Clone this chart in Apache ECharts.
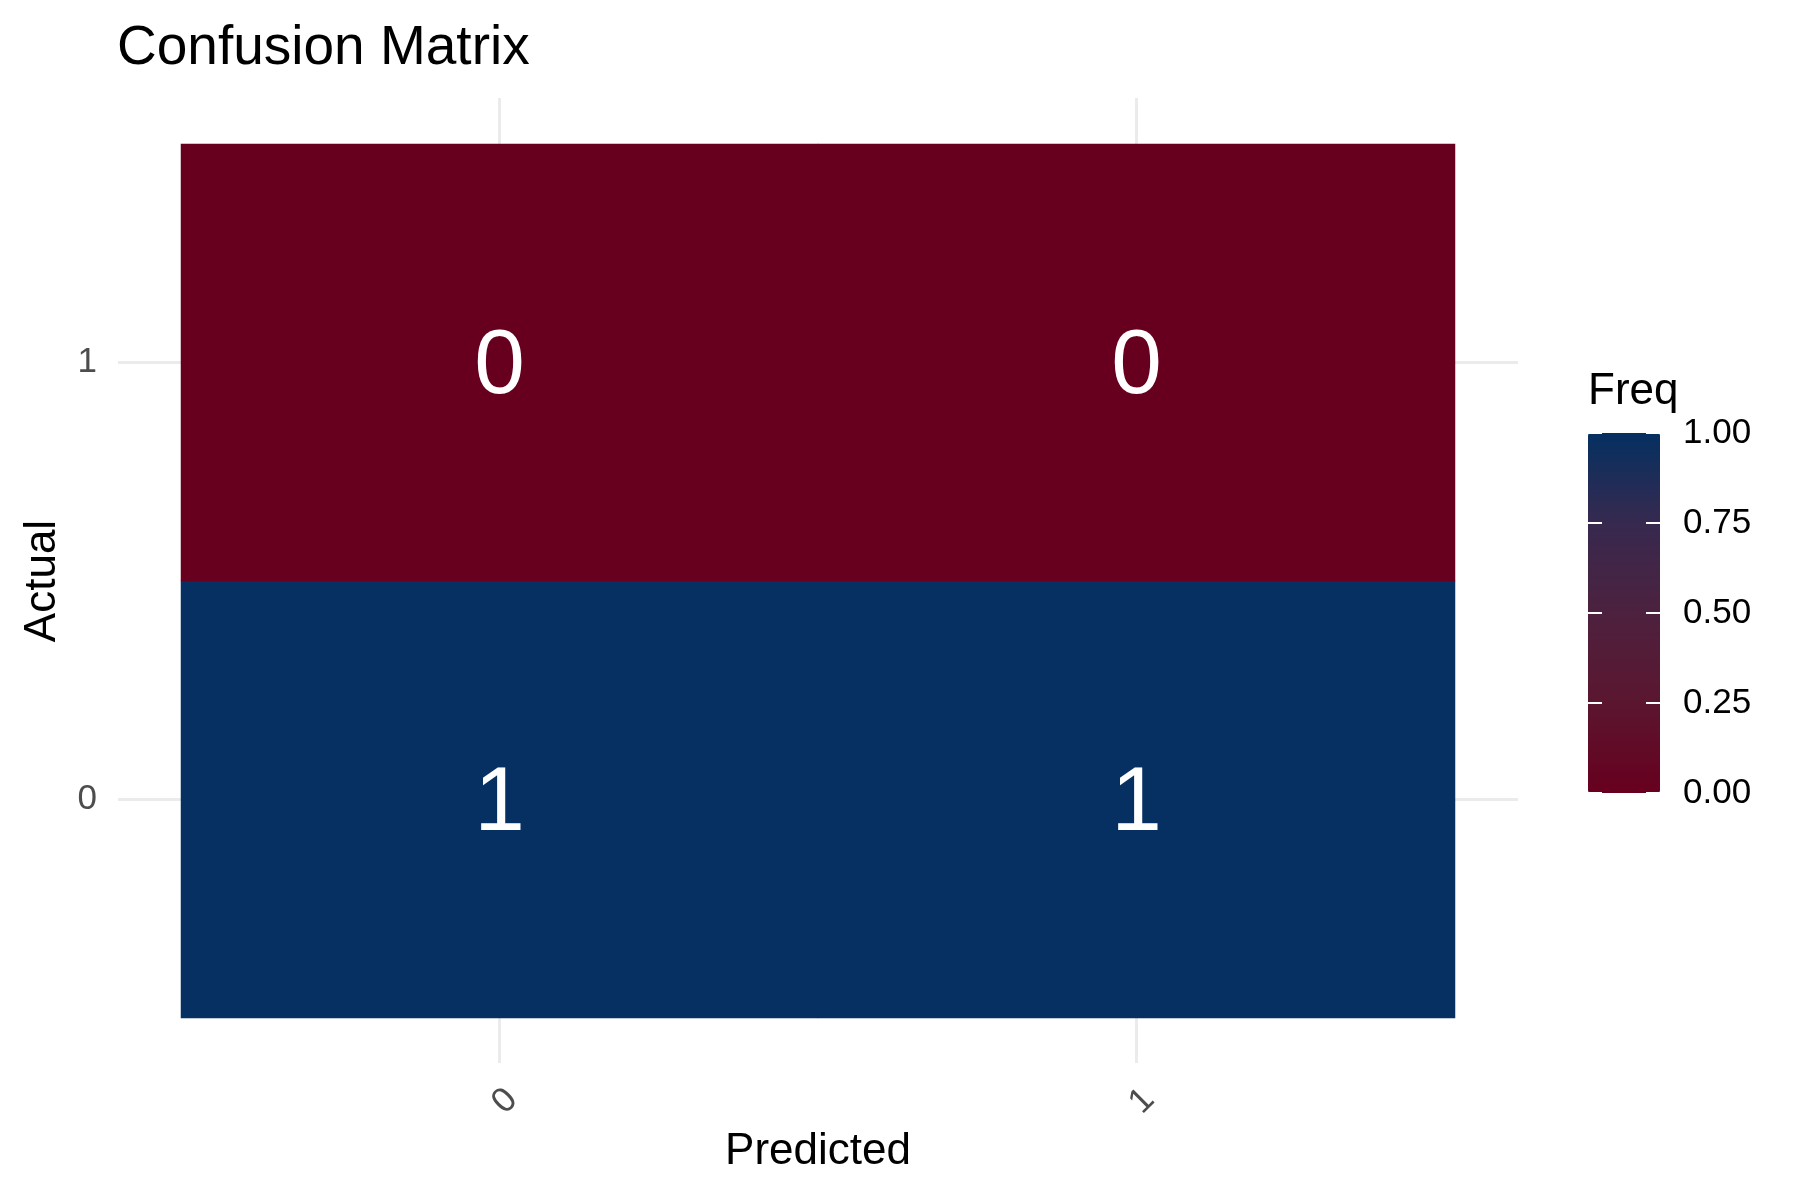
<!DOCTYPE html>
<html>
<head>
<meta charset="utf-8">
<script src="https://cdn.jsdelivr.net/npm/echarts@6/dist/echarts.min.js"></script>
<style>html,body{margin:0;padding:0;background:#fff;}#c{width:1800px;height:1200px;}</style>
</head>
<body>
<div id="c"></div>
<script>
// ---- data ----
var predictedCats = ['0', '1'];          // x axis
var actualCats = ['0', '1'];             // y axis (bottom to top)
var freqActual0 = [1, 1];                // Freq for Actual = 0, by Predicted
var freqActual1 = [0, 0];                // Freq for Actual = 1, by Predicted
var legendTicks = [0, 0.25, 0.5, 0.75, 1];
var legendColors = ['#67001F', '#5B162F', '#4D213F', '#37294F', '#053061'];

var rows = [freqActual0, freqActual1];
var heatData = [];
rows.forEach(function (row, yi) {
  row.forEach(function (v, xi) { heatData.push([xi, yi, v]); });
});

var FONT = 'Liberation Sans, Arial, sans-serif';
var GRIDC = '#EBEBEB';

var chart = echarts.init(document.getElementById('c'));
chart.setOption({
  backgroundColor: '#fff',
  animation: false,
  textStyle: { fontFamily: FONT },
  title: [
    { text: 'Confusion Matrix', left: 117, top: 21, padding: 0,
      textStyle: { fontFamily: FONT, fontSize: 55, fontWeight: 'normal', color: '#000' } },
    { text: 'Freq', left: 1588, top: 370, padding: 0,
      textStyle: { fontFamily: FONT, fontSize: 44, fontWeight: 'normal', color: '#000' } }
  ],
  grid: [
    { left: 181, top: 144, width: 1274, height: 874 },
    { left: 1588, top: 433, width: 72, height: 360 }
  ],
  xAxis: [
    { type: 'category', gridIndex: 0, data: predictedCats, position: 'bottom',
      axisLine: { show: false },
      axisTick: { show: true, alignWithLabel: true, length: 45, lineStyle: { color: GRIDC, width: 3 } },
      axisLabel: { rotate: 45, fontSize: 35, color: '#4D4D4D', margin: 64, align: 'right', verticalAlign: 'top', fontFamily: FONT },
      splitLine: { show: false },
      name: 'Predicted', nameLocation: 'middle', nameGap: 112,
      nameTextStyle: { fontSize: 44, color: '#000', fontFamily: FONT } },
    { type: 'category', gridIndex: 0, data: predictedCats, position: 'top',
      axisLine: { show: false },
      axisTick: { show: true, alignWithLabel: true, length: 46, lineStyle: { color: GRIDC, width: 3 } },
      axisLabel: { show: false }, splitLine: { show: false } },
    { type: 'value', gridIndex: 1, min: 0, max: 1, show: false }
  ],
  yAxis: [
    { type: 'category', gridIndex: 0, data: actualCats, position: 'left',
      axisLine: { show: false },
      axisTick: { show: true, alignWithLabel: true, length: 63, lineStyle: { color: GRIDC, width: 3 } },
      axisLabel: { fontSize: 35, color: '#4D4D4D', margin: 84, fontFamily: FONT },
      splitLine: { show: false },
      name: 'Actual', nameLocation: 'middle', nameRotate: 90, nameGap: 116,
      nameTextStyle: { fontSize: 44, color: '#000', fontFamily: FONT } },
    { type: 'category', gridIndex: 0, data: actualCats, position: 'right',
      axisLine: { show: false },
      axisTick: { show: true, alignWithLabel: true, length: 63, lineStyle: { color: GRIDC, width: 3 } },
      axisLabel: { show: false }, splitLine: { show: false } },
    { type: 'value', gridIndex: 1, min: 0, max: 1, interval: 0.25, position: 'left', z: 10,
      axisLine: { show: false },
      axisTick: { show: true, inside: true, length: 14, lineStyle: { color: '#ffffff', width: 2 } },
      axisLabel: { show: false }, splitLine: { show: false } },
    { type: 'value', gridIndex: 1, min: 0, max: 1, interval: 0.25, position: 'right', z: 10,
      axisLine: { show: false },
      axisTick: { show: true, inside: true, length: 14, lineStyle: { color: '#ffffff', width: 2 } },
      axisLabel: { show: true, fontSize: 35, color: '#000', margin: 23, fontFamily: FONT,
        padding: [12, 0, 0, 0],
        customValues: legendTicks,
        formatter: function (v) { return Number(v).toFixed(2); } },
      splitLine: { show: false } }
  ],
  visualMap: {
    type: 'continuous', min: 0, max: 1, dimension: 2, seriesIndex: 0,
    calculable: false, realtime: false,
    left: 1588, top: 433, padding: 0,
    itemWidth: 72, itemHeight: 360,
    text: null, showLabel: false,
    inRange: { color: legendColors }
  },
  series: [{
    type: 'heatmap', xAxisIndex: 0, yAxisIndex: 0,
    data: heatData,
    label: { show: true, color: '#fff', fontSize: 91, fontFamily: FONT, offset: [0, 5],
      formatter: function (p) { return String(p.value[2]); } },
    emphasis: { disabled: true },
    itemStyle: { borderWidth: 0 }
  }]
});
</script>
</body>
</html>
